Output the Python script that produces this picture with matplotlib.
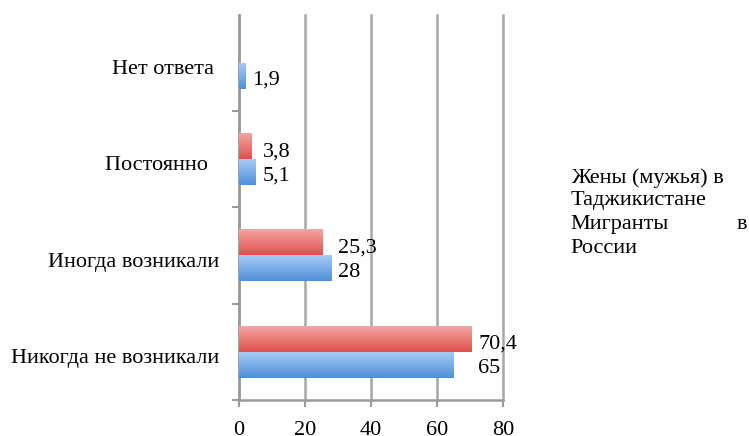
import numpy as np
import matplotlib.pyplot as plt
from matplotlib.colors import LinearSegmentedColormap
from matplotlib.transforms import Bbox, TransformedBbox, ScaledTranslation

## data
categories = ['Никогда не возникали', 'Иногда возникали', 'Постоянно  ', 'Нет ответа ']
wives = [70.4, 25.3, 3.8, 0]        # Жены (мужья) в Таджикистане
migrants = [65, 28, 5.1, 1.9]       # Мигранты в России
xticks = [0, 20, 40, 60, 80]

plt.rcParams['font.family'] = ['Liberation Serif', 'DejaVu Serif']
fs = 16

fig = plt.figure(figsize=(7.49, 4.36), dpi=100)
ax = fig.add_axes([0.319, 0.083, 0.3525, 0.883])

y = np.arange(len(categories))
h = 0.27
red_cm = LinearSegmentedColormap.from_list('r', ['#f5a5a2', '#e0514d'])
blue_cm = LinearSegmentedColormap.from_list('b', ['#a6cbf6', '#4f8fd8'])
grad = np.linspace(0, 1, 50).reshape(-1, 1)


def gradient_bars(bars, cmap):
    ## paint a vertical gradient inside every bar
    for b in bars:
        if b.get_width() <= 0:
            continue
        x0, y0 = b.get_x(), b.get_y()
        im = ax.imshow(grad, cmap=cmap, aspect='auto', origin='upper',
                       extent=[x0, x0 + b.get_width(), y0, y0 + b.get_height()],
                       zorder=3)
        im.set_clip_path(b)


red = ax.barh(y + h / 2, wives, height=h, color='#e8625e', zorder=3)
blue = ax.barh(y - h / 2, migrants, height=h, color='#5f9de2', zorder=3)
gradient_bars(red, red_cm)
gradient_bars(blue, blue_cm)

## value labels, both labels of a group start after the longer bar
for i in range(len(categories)):
    xl = max(wives[i], migrants[i])
    if wives[i] > 0:
        ax.annotate(('%g' % wives[i]).replace('.', ','), (xl, y[i] + h / 2),
                    xytext=(5, -4), textcoords='offset points', va='center',
                    fontsize=fs)
    ax.annotate(('%g' % migrants[i]).replace('.', ','), (xl, y[i] - h / 2),
                xytext=(5, -3), textcoords='offset points', va='center',
                fontsize=fs)

ax.set_xlim(0, 80)
ax.set_ylim(-0.5, len(categories) - 0.5)
ax.set_xticks(xticks)
ax.set_yticks(y)
ax.set_yticklabels(categories)
ax.set_yticks(np.arange(len(categories)) - 0.5, minor=True)
ax.tick_params(axis='y', which='major', length=0, pad=14, labelsize=fs)
ax.tick_params(axis='y', which='minor', length=5, color='#9a9a9a', width=1.5)
ax.tick_params(axis='x', length=5, color='#9a9a9a', width=1.5, labelsize=fs, pad=10)
shift = ScaledTranslation(0, -3 / 72, fig.dpi_scale_trans)
for lab in ax.get_yticklabels():
    lab.set_transform(lab.get_transform() + shift)

ax.grid(axis='x', color='#a6a6a6', linewidth=1.8, zorder=0)
for gl in ax.get_xgridlines():
    gl.set_clip_on(False)
ax.set_axisbelow(True)
for s in ['top', 'right']:
    ax.spines[s].set_visible(False)
for s in ['left', 'bottom']:
    ax.spines[s].set_color('#9a9a9a')
    ax.spines[s].set_linewidth(1.8)

## legend text (no markers, clipped at the bottom like the original)
clip = TransformedBbox(Bbox([[0.7, 0.41], [1.0, 0.7]]), fig.transFigure)
lines = [(0.762, 0.592, 'Жены (мужья) в', 'left'),
         (0.762, 0.539, 'Таджикистане', 'left'),
         (0.762, 0.484, 'Мигранты', 'left'),
         (0.997, 0.484, 'в', 'right'),
         (0.762, 0.429, 'России', 'left')]
for x, yy, s, ha in lines:
    t = fig.text(x, yy, s, fontsize=fs, va='center', ha=ha)
    t.set_clip_box(clip)
    t.set_clip_on(True)

fig.savefig('out.png', dpi=100)
